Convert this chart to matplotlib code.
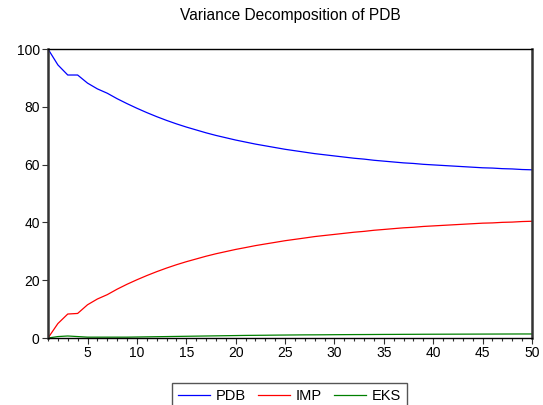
import matplotlib.pyplot as plt
from matplotlib.ticker import MultipleLocator

plt.rcParams['font.family'] = ['Liberation Sans', 'DejaVu Sans']

# forecast horizon 1..50
periods = list(range(1, 51))

PDB = [100.0, 94.5, 91.0, 91.0, 88.2, 86.2, 84.7, 82.8, 81.1, 79.5,
       78.0, 76.6, 75.3, 74.1, 73.0, 72.0, 71.0, 70.1, 69.3, 68.5,
       67.8, 67.1, 66.5, 65.9, 65.3, 64.8, 64.3, 63.8, 63.4, 63.0,
       62.6, 62.2, 61.9, 61.5, 61.2, 60.9, 60.6, 60.4, 60.1, 59.9,
       59.7, 59.5, 59.3, 59.1, 58.9, 58.8, 58.6, 58.5, 58.3, 58.2]

IMP = [0.0, 5.0, 8.3, 8.5, 11.5, 13.5, 15.0, 16.9, 18.6, 20.15,
       21.6, 22.95, 24.2, 25.35, 26.4, 27.35, 28.3, 29.15, 29.9, 30.65,
       31.3, 31.97, 32.54, 33.1, 33.67, 34.14, 34.61, 35.1, 35.48, 35.85,
       36.23, 36.61, 36.9, 37.28, 37.56, 37.85, 38.13, 38.32, 38.6, 38.79,
       38.98, 39.17, 39.36, 39.55, 39.74, 39.83, 40.02, 40.11, 40.3, 40.4]

EKS = [0.0, 0.5, 0.7, 0.5, 0.3, 0.3, 0.3, 0.3, 0.3, 0.35,
       0.4, 0.45, 0.5, 0.55, 0.6, 0.65, 0.7, 0.75, 0.8, 0.85,
       0.9, 0.93, 0.96, 1.0, 1.03, 1.06, 1.09, 1.1, 1.12, 1.15,
       1.17, 1.19, 1.2, 1.22, 1.24, 1.25, 1.27, 1.28, 1.3, 1.31,
       1.32, 1.33, 1.34, 1.35, 1.36, 1.37, 1.38, 1.39, 1.4, 1.4]

fig = plt.figure(figsize=(5.43, 4.05), dpi=100)
ax = fig.add_axes([0.0884, 0.1654, 0.8913, 0.7136])

ax.plot(periods, PDB, color='#0000ff', lw=0.9, label='PDB')
ax.plot(periods, IMP, color='#ff0000', lw=0.9, label='IMP')
ax.plot(periods, EKS, color='#008000', lw=0.9, label='EKS')

ax.set_xlim(1, 50)
ax.set_ylim(0, 100)
ax.set_xticks([5, 10, 15, 20, 25, 30, 35, 40, 45, 50])
ax.xaxis.set_minor_locator(MultipleLocator(1))
ax.set_yticks([0, 20, 40, 60, 80, 100])
ax.tick_params(axis='both', which='major', direction='out', length=4,
               width=0.8, labelsize=10, color='#333333')
ax.tick_params(axis='x', which='minor', direction='out', length=2.5,
               width=0.8, color='#333333')
ax.tick_params(axis='x', pad=2)
ax.tick_params(axis='y', pad=2)

for side in ['left', 'right']:
    ax.spines[side].set_linewidth(1.8)
    ax.spines[side].set_color('#333333')
ax.spines['bottom'].set_linewidth(1.0)
ax.spines['top'].set_linewidth(1.0)

ax.set_title('Variance Decomposition of PDB', fontsize=11.2, pad=21)

fig.legend(loc='upper center', bbox_to_anchor=(0.533, 0.0543), ncol=3,
           fancybox=False, edgecolor='#555555', fontsize=10.5,
           handlelength=2.2, handletextpad=0.4, columnspacing=0.8,
           borderpad=0.4, borderaxespad=0, framealpha=1)

plt.savefig('out.png', dpi=100)
